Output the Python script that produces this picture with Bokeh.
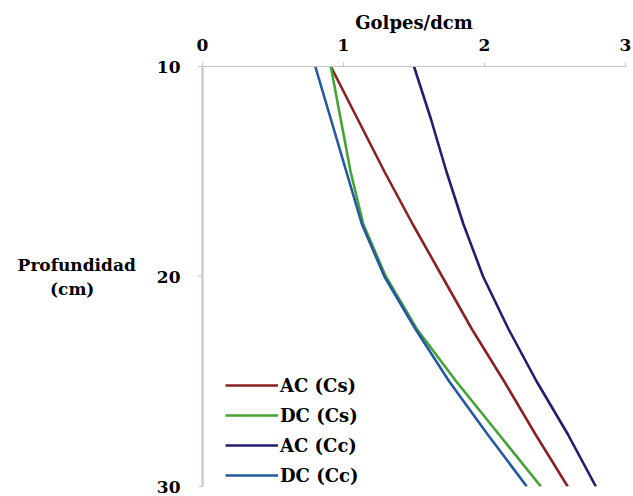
from bokeh.plotting import figure
from bokeh.models import Range1d, FixedTicker, LinearAxis
from bokeh.embed import file_html
from bokeh.resources import INLINE

depth = [10, 12.5, 15, 17.5, 20, 22.5, 25, 27.5, 30]
ac_cs = [0.91, 1.10, 1.29, 1.49, 1.70, 1.91, 2.14, 2.36, 2.59]
dc_cs = [0.91, 0.98, 1.05, 1.14, 1.30, 1.52, 1.80, 2.10, 2.40]
ac_cc = [1.50, 1.62, 1.73, 1.85, 1.99, 2.17, 2.37, 2.59, 2.79]
dc_cc = [0.80, 0.91, 1.02, 1.13, 1.29, 1.51, 1.75, 2.02, 2.30]

series = [
    ("AC (Cs)", ac_cs, "#8a2222"),
    ("DC (Cs)", dc_cs, "#45a335"),
    ("AC (Cc)", ac_cc, "#221e6e"),
    ("DC (Cc)", dc_cc, "#2458a0"),
]
x_ticks = [0, 1, 2, 3]
y_ticks = [10, 20, 30]

FONT = "DejaVu Serif"
NB = "\u00a0"

p = figure(width=633, height=496, output_backend="svg", toolbar_location=None,
           x_axis_location=None, y_axis_location=None,
           x_range=Range1d(0, 3), y_range=Range1d(30, 10),
           min_border_left=202, min_border_right=8, min_border_top=66,
           min_border_bottom=10)
p.outline_line_color = None
p.grid.visible = False
p.background_fill_color = "white"
p.border_fill_color = "white"

for name, vals, col in series:
    p.line(vals, depth, line_color=col, line_width=2.6, legend_label=name)

xa = LinearAxis(
    ticker=FixedTicker(ticks=x_ticks),
    axis_label="Golpes/dcm",
    axis_label_text_font=FONT,
    axis_label_text_font_style="bold",
    axis_label_text_font_size="18px",
    axis_label_text_color="black",
    axis_label_standoff=3,
    major_label_text_font=FONT,
    major_label_text_font_style="bold",
    major_label_text_font_size="17px",
    major_label_text_color="black",
    major_label_standoff=12,
    axis_line_color="#c4c4c4",
    major_tick_line_color="#c4c4c4",
    major_tick_out=4,
    major_tick_in=0,
    minor_tick_line_color=None,
)
p.add_layout(xa, "above")

ya = LinearAxis(
    ticker=FixedTicker(ticks=y_ticks),
    axis_label="Profundidad\n(cm)" + NB * 7,
    axis_label_orientation="horizontal",
    axis_label_text_font=FONT,
    axis_label_text_font_style="bold",
    axis_label_text_font_size="17px",
    axis_label_text_color="black",
    axis_label_standoff=18,
    major_label_text_font=FONT,
    major_label_text_font_style="bold",
    major_label_text_font_size="17px",
    major_label_text_color="black",
    major_label_standoff=18,
    axis_line_color="#b8c6d2",
    axis_line_width=2,
    major_tick_line_color="#b8c6d2",
    major_tick_out=4,
    major_tick_in=0,
    minor_tick_line_color=None,
)
p.add_layout(ya, "left")

lg = p.legend[0]
lg.location = (23, -4)
lg.padding = 0
lg.margin = 0
lg.spacing = 0
lg.glyph_width = 53
lg.glyph_height = 30
lg.label_height = 30
lg.label_standoff = 2
lg.label_text_font = FONT
lg.label_text_font_style = "bold"
lg.label_text_font_size = "18px"
lg.label_text_color = "black"
lg.background_fill_alpha = 0
lg.border_line_color = None

open("out.html", "w").write(file_html(p, INLINE))
